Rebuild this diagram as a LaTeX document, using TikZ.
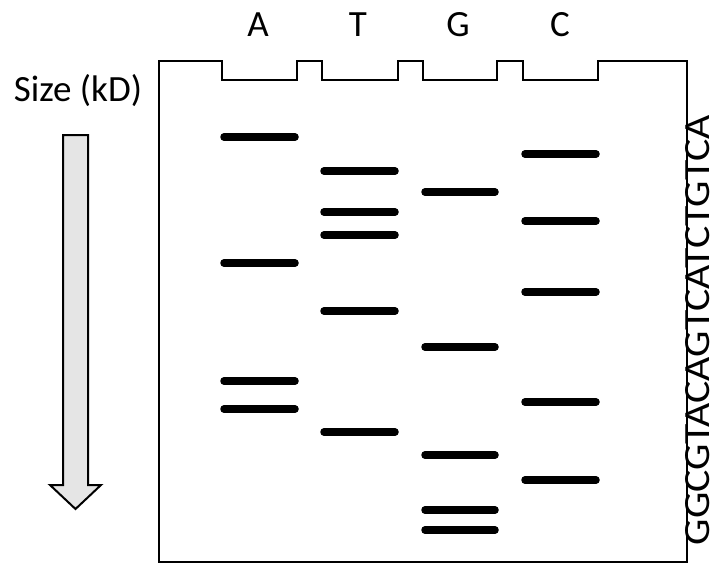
\documentclass[tikz,border=0pt]{standalone}
\usepackage{fontspec}
\setmainfont{Carlito}
\begin{document}
\begin{tikzpicture}[x=1pt,y=-1pt,
  band/.style={line width=7.5pt,line cap=round},
  lbl/.style={font=\fontsize{37}{40}\selectfont,inner sep=0pt},
  gel/.style={draw,line width=2pt}]
\useasboundingbox (0,0) rectangle (715,565);
% gel outline with four wells
\draw[gel] (159,562) -- (159,61) -- (222,61) -- (222,80) -- (297,80) -- (297,61)
  -- (322,61) -- (322,80) -- (398,80) -- (398,61) -- (423,61) -- (423,80)
  -- (497,80) -- (497,61) -- (523,61) -- (523,80) -- (598,80) -- (598,61)
  -- (687,61) -- (687,562) -- cycle;
% lane labels
\node[lbl] (la) at (258,25) {A};
\node[lbl] (lt) at (358,25) {T};
\node[lbl] (lg) at (458,25) {G};
\node[lbl] (lc) at (560,25) {C};
\node[lbl] (size) at (78,91) {Size (kD)};
% size arrow
\draw[line width=2pt,fill=black!10,line join=miter]
  (63,135) -- (88,135) -- (88,485) -- (101,485) -- (75.5,509) -- (50,485) -- (63,485) -- cycle;
% bands
\foreach \y in {137,263,381,409} \draw[band] (224,\y) -- (295,\y);
\foreach \y in {171,212,235,311,432} \draw[band] (324,\y) -- (395,\y);
\foreach \y in {192,347,455,510,530} \draw[band] (425,\y) -- (495,\y);
\foreach \y in {154,221,292,402,480} \draw[band] (525,\y) -- (596,\y);
% read-off sequence
\node[lbl,rotate=90] (seq) at (698,330) {\scalebox{1.13}[1]{GGCGTACAGTCATCTGTCA}};
\end{tikzpicture}
\end{document}
